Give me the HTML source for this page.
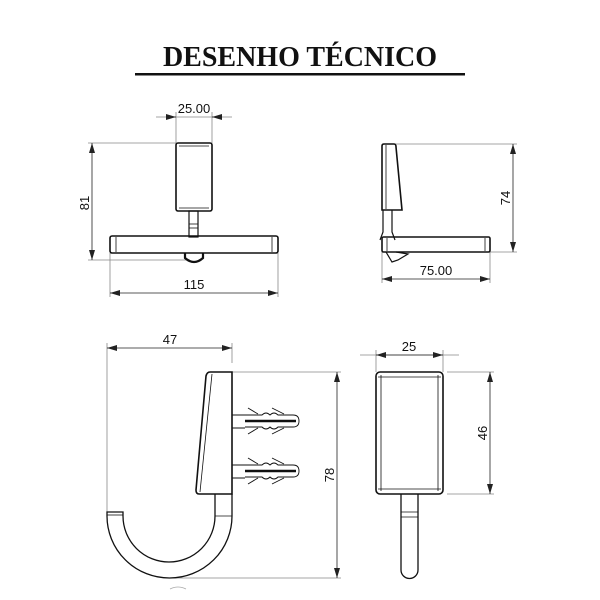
<!DOCTYPE html>
<html><head><meta charset="utf-8"><style>
html,body{margin:0;padding:0;background:#fff}
svg{display:block}
.t{font-family:"Liberation Sans",sans-serif;font-size:13px;fill:#111}
</style></head><body>
<svg width="600" height="600" viewBox="0 0 600 600" xmlns="http://www.w3.org/2000/svg">
<defs>
<marker id="a" viewBox="0 0 10 6" refX="10" refY="3" markerWidth="10" markerHeight="6" orient="auto-start-reverse" markerUnits="userSpaceOnUse"><path d="M0,0 L10,3 L0,6 z" fill="#222"/></marker>
</defs>
<text x="300" y="66" text-anchor="middle" font-family="Liberation Serif,serif" font-weight="bold" font-size="28" fill="#111">DESENHO TÉCNICO</text>
<rect x="135" y="73" width="330" height="2.5" fill="#111"/>

<g fill="none" stroke="#888" stroke-width="0.8">
<line x1="176" y1="112" x2="176" y2="143"/><line x1="212" y1="112" x2="212" y2="143"/>
<line x1="156" y1="117" x2="232" y2="117"/>
<line x1="88" y1="143" x2="176" y2="143"/><line x1="88" y1="260" x2="190" y2="260"/>
<line x1="110" y1="253" x2="110" y2="297"/><line x1="278" y1="253" x2="278" y2="297"/>
<line x1="395" y1="144" x2="517" y2="144"/><line x1="490" y1="252" x2="517" y2="252"/>
<line x1="382" y1="252" x2="382" y2="283"/><line x1="490" y1="252" x2="490" y2="283"/>
<line x1="107" y1="343" x2="107" y2="512"/><line x1="232" y1="343" x2="232" y2="363"/>
<line x1="232" y1="372" x2="341" y2="372"/><line x1="170" y1="578" x2="341" y2="578"/>
<line x1="376" y1="350" x2="376" y2="372"/><line x1="443" y1="350" x2="443" y2="372"/>
<line x1="360" y1="355" x2="459" y2="355"/>
<line x1="447" y1="372" x2="494" y2="372"/><line x1="447" y1="494" x2="494" y2="494"/>
</g>
<g stroke="#222" stroke-width="0.8" fill="none">
<line x1="168" y1="117" x2="176" y2="117" marker-end="url(#a)"/>
<line x1="220" y1="117" x2="212" y2="117" marker-end="url(#a)"/>
<line x1="92" y1="143" x2="92" y2="260" marker-start="url(#a)" marker-end="url(#a)"/>
<line x1="110" y1="293" x2="278" y2="293" marker-start="url(#a)" marker-end="url(#a)"/>
<line x1="513" y1="144" x2="513" y2="252" marker-start="url(#a)" marker-end="url(#a)"/>
<line x1="382" y1="279" x2="490" y2="279" marker-start="url(#a)" marker-end="url(#a)"/>
<line x1="107" y1="348" x2="232" y2="348" marker-start="url(#a)" marker-end="url(#a)"/>
<line x1="337" y1="372" x2="337" y2="578" marker-start="url(#a)" marker-end="url(#a)"/>
<line x1="376" y1="355" x2="443" y2="355" marker-start="url(#a)" marker-end="url(#a)"/>
<line x1="490" y1="372" x2="490" y2="494" marker-start="url(#a)" marker-end="url(#a)"/>
</g>
<text class="t" x="194" y="113" text-anchor="middle">25.00</text>
<text class="t" x="194" y="289" text-anchor="middle">115</text>
<text class="t" transform="translate(89,203) rotate(-90)" text-anchor="middle">81</text>
<text class="t" transform="translate(510,198) rotate(-90)" text-anchor="middle">74</text>
<text class="t" x="436" y="275" text-anchor="middle">75.00</text>
<text class="t" x="170" y="344" text-anchor="middle">47</text>
<text class="t" transform="translate(334,475) rotate(-90)" text-anchor="middle">78</text>
<text class="t" x="409" y="351" text-anchor="middle">25</text>
<text class="t" transform="translate(487,433) rotate(-90)" text-anchor="middle">46</text>

<g fill="none" stroke="#111" stroke-width="1.6">
<rect x="176" y="143" width="36" height="68" rx="2"/>
<line x1="179" y1="146" x2="209" y2="146" stroke-width="0.8"/>
<line x1="179" y1="208" x2="209" y2="208" stroke-width="0.8"/>
<rect x="189" y="211" width="9" height="26" stroke-width="1.2"/>
<line x1="189" y1="224" x2="198" y2="224" stroke-width="0.8"/>
<line x1="189" y1="228" x2="198" y2="228" stroke-width="0.8"/>
<rect x="110" y="236" width="168" height="17" rx="2"/>
<line x1="116" y1="237" x2="116" y2="252" stroke-width="0.8"/>
<line x1="272" y1="237" x2="272" y2="252" stroke-width="0.8"/>
<path d="M185,253 L185,258 Q194,266 203,258 L203,253" stroke-width="2.2"/>
<path d="M384,144 L394,144 Q396,144 396,147 L402,210 L382,210 L382,146 Q382,144 384,144 Z"/>
<line x1="386" y1="145" x2="386" y2="209" stroke-width="0.8"/>
<path d="M383,210 L383,232 L380,240 M392,210 L392,232 L395,240" stroke-width="1.2"/>
<rect x="382" y="237" width="108" height="15" rx="1.5"/>
<line x1="387" y1="238" x2="387" y2="251" stroke-width="0.8"/>
<line x1="485" y1="238" x2="485" y2="251" stroke-width="0.8"/>
<path d="M386,252 L392,262 L398,260 L408,254 L396,252" stroke-width="1.2"/>
<path d="M210,372 L232,372 L232,494 L199,494 Q196,494 196,490 L206,376 Q207,372 210,372 Z"/>
<line x1="212" y1="374" x2="200" y2="492" stroke-width="0.8"/>
<path d="M232,494 L232,516 A62.5,62 0 0 1 107,516 L107,512 L123,512 L123,516 A46,46 0 0 0 215,516 L215,494" stroke-width="1.3"/>
<line x1="215" y1="516" x2="232" y2="516" stroke-width="0.8"/>
<line x1="107" y1="515" x2="123" y2="515" stroke-width="0.8"/>
<path d="M170,589 Q178,585 186,589" stroke="#aaa" stroke-width="0.8"/>
<g stroke-width="0.9">
<path d="M232,415 L245,415 M232,428 L245,428"/>
<path d="M245,415 L262,415 Q266,411 270,415 Q274,411 278,415 L293,415 Q299,415 299,421 Q299,427 293,427 L278,427 Q274,431 270,427 Q266,431 262,427 L245,427"/>
<line x1="245" y1="421" x2="296" y2="421" stroke-width="2.5"/>
<path d="M248,408 L258,414 M272,408 L284,414 M248,434 L258,428 M272,434 L284,428"/>
<path d="M232,465 L245,465 M232,478 L245,478"/>
<path d="M245,465 L262,465 Q266,461 270,465 Q274,461 278,465 L293,465 Q299,465 299,471 Q299,477 293,477 L278,477 Q274,481 270,477 Q266,481 262,477 L245,477"/>
<line x1="245" y1="471" x2="296" y2="471" stroke-width="2.5"/>
<path d="M248,458 L258,464 M272,458 L284,464 M248,484 L258,478 M272,484 L284,478"/>
</g>
<rect x="376" y="372" width="67" height="122" rx="4"/>
<line x1="378" y1="377" x2="441" y2="377" stroke-width="0.8"/>
<line x1="378" y1="489" x2="441" y2="489" stroke-width="0.8"/>
<line x1="381" y1="375" x2="381" y2="491" stroke-width="0.8"/>
<line x1="438" y1="375" x2="438" y2="491" stroke-width="0.8"/>
<path d="M401,494 L401,570 A8.5,8.5 0 0 0 418,570 L418,494" stroke-width="1.3"/>
<path d="M401,512 L418,512 M401,517 L418,517" stroke-width="0.8"/>
</g>
</svg>
</body></html>
